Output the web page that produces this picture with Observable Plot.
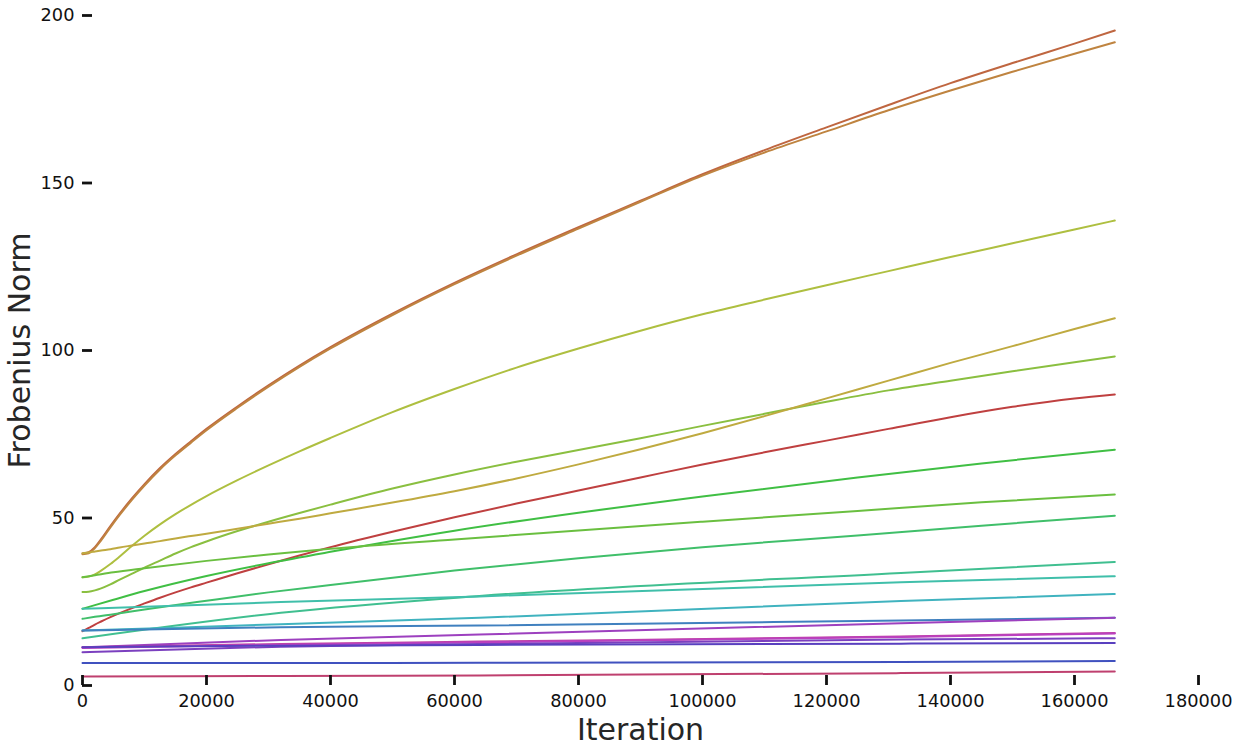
<!DOCTYPE html>
<html><head><meta charset="utf-8">
<script src="https://cdn.jsdelivr.net/npm/d3@7"></script>
<script src="https://cdn.jsdelivr.net/npm/@observablehq/plot@0.6"></script>
<style>
body{margin:0;background:#fff;}
#chart svg{display:block;}
</style>
</head><body><div id="chart"></div>
<script>
// ---- axis ticks ----
const xTicks = [0, 20000, 40000, 60000, 80000, 100000, 120000, 140000, 160000, 180000];
const yTicks = [0, 50, 100, 150, 200];

// ---- iteration grids (x values) ----
const iterFine = [0, 1000, 2000, 3000, 4500, 6000, 8000, 10000, 12500, 15000, 17500, 20000, 25000, 30000, 35000, 40000, 50000, 60000, 70000, 80000, 90000, 100000, 110000, 120000, 130000, 140000, 150000, 160000, 166500];
const iterMid = [0, 2000, 5000, 10000, 20000, 30000, 40000, 60000, 80000, 100000, 125000, 145000, 166500];
const iterCoarse = [0, 32000, 64000, 132000, 166500];

// ---- Frobenius norm series ----
const normA = [39.4, 39.8, 41.3, 43.7, 47.6, 51.3, 55.9, 60.1, 64.9, 69.1, 72.9, 76.6, 83.3, 89.6, 95.5, 101.0, 111.0, 120.2, 128.7, 136.8, 144.7, 152.6, 159.8, 166.6, 173.3, 179.8, 185.8, 191.6, 195.5];
const normB = [39.2, 39.5, 41.0, 43.3, 47.2, 50.9, 55.5, 59.7, 64.5, 68.7, 72.5, 76.2, 82.9, 89.2, 95.1, 100.6, 110.6, 119.8, 128.3, 136.4, 144.4, 152.2, 159.1, 165.4, 171.7, 177.6, 183.2, 188.6, 192.0];
const normC = [32.3, 32.5, 33.2, 34.3, 36.25, 38.5, 41.7, 44.7, 48.1, 51.15, 53.95, 56.55, 61.3, 65.7, 69.9, 73.9, 81.6, 88.5, 94.9, 100.6, 105.9, 110.8, 115.2, 119.5, 123.7, 127.9, 132.0, 136.1, 138.8];
const normD = [27.9, 28.0, 28.4, 29.0, 30.2, 31.6, 33.4, 35.2, 37.3, 39.4, 41.3, 43.0, 46.1, 48.9, 51.5, 54.0, 58.8, 63.0, 66.8, 70.3, 73.8, 77.5, 81.1, 84.7, 88.1, 91.0, 93.8, 96.5, 98.2];
const normE = [39.5, 39.7, 40.0, 40.3, 40.7, 41.2, 41.8, 42.4, 43.1, 43.9, 44.6, 45.3, 46.8, 48.3, 49.8, 51.4, 54.6, 58.0, 61.8, 66.0, 70.5, 75.3, 80.4, 85.7, 91.0, 96.3, 101.3, 106.4, 109.6];
const normF = [16.2, 17.2, 18.2, 19.1, 20.4, 21.6, 23.1, 24.5, 26.2, 27.8, 29.3, 30.7, 33.5, 36.2, 38.8, 41.3, 45.9, 50.2, 54.3, 58.2, 62.1, 66.0, 69.6, 73.1, 76.6, 80.1, 83.2, 85.7, 86.9];
const normG = [22.9, 24.0, 25.6, 28.2, 32.7, 36.5, 39.9, 46.2, 51.6, 56.4, 62.1, 66.3, 70.4];
const normH = [32.3, 32.9, 33.8, 35.0, 37.2, 39.1, 40.8, 43.6, 46.3, 48.9, 52.1, 54.7, 57.0];
const normI = [19.9, 20.5, 21.3, 22.7, 25.3, 27.8, 30.0, 34.3, 38.0, 41.3, 44.8, 47.7, 50.7];
const normJ = [14.1, 21.7, 26.7, 33.6, 36.9];
const normK = [22.9, 24.9, 26.6, 30.8, 32.6];
const normL = [16.4, 18.3, 20.2, 25.2, 27.3];
const normM = [16.4, 17.4, 17.9, 19.4, 20.2];
const normN = [11.4, 13.6, 15.2, 18.6, 20.2];
const normO = [11.4, 12.4, 13.1, 14.6, 15.7];
const normP = [11.2, 12.2, 12.9, 14.5, 15.5];
const normQ = [9.9, 11.6, 12.4, 13.7, 14.1];
const normR = [11.4, 11.9, 12.1, 12.5, 12.7];
const normS = [6.7, 6.7, 6.8, 7.0, 7.3];
const normT = [2.7, 2.85, 3.0, 3.7, 4.2];

const seriesNames = ["A","B","C","D","E","F","G","H","I","J","K","L","M","N","O","P","Q","R","S","T"];
const seriesIters = [iterFine, iterFine, iterFine, iterFine, iterFine, iterFine, iterMid, iterMid, iterMid, iterCoarse, iterCoarse, iterCoarse, iterCoarse, iterCoarse, iterCoarse, iterCoarse, iterCoarse, iterCoarse, iterCoarse, iterCoarse];
const seriesNorms = [normA, normB, normC, normD, normE, normF, normG, normH, normI, normJ, normK, normL, normM, normN, normO, normP, normQ, normR, normS, normT];
const seriesHues = [18, 32, 68, 85, 50, 0, 122, 100, 140, 158, 170, 186, 210, 284, 315, 298, 268, 252, 232, 338];
const palette = seriesHues.map(h => `hsl(${h},50%,50%)`);

// build a tidy table
const rows = [];
seriesNames.forEach((name, i) => {
  seriesIters[i].forEach((it, j) => rows.push({series: name, iter: it, norm: seriesNorms[i][j]}));
});

const W = 1239, H = 751, ML = 82, MR = 41, MT = 15, MB = 66;
const plotW = W - ML - MR, plotH = H - MT - MB;

const chart = Plot.plot({
  width: W, height: H,
  marginLeft: ML, marginRight: MR, marginTop: MT, marginBottom: MB,
  style: {fontFamily: "DejaVu Sans", background: "#fff", color: "#111"},
  x: {domain: [0, 180000]},
  y: {domain: [0, 200]},
  color: {domain: seriesNames, range: palette},
  marks: [
    Plot.line(rows, {x: "iter", y: "norm", z: "series", stroke: "series", strokeWidth: 2, curve: "monotone-x"}),
    Plot.axisX({ticks: xTicks, tickSize: 0, tickPadding: 9, fontSize: 17.8, tickFormat: d => String(d), label: null, fill: "#111"}),
    Plot.axisY({ticks: yTicks, tickSize: 0, tickPadding: 8, fontSize: 17.8, tickFormat: d => String(d), label: null, fill: "#111"}),
    Plot.tickX(xTicks, {x: d => d, insetTop: plotH - 10, stroke: "#111", strokeWidth: 2.8}),
    Plot.tickY(yTicks, {y: d => d, insetRight: plotW - 10, stroke: "#111", strokeWidth: 2.8}),
    Plot.text(["Iteration"], {text: d => d, frameAnchor: "bottom", dy: 45, textAnchor: "middle", lineAnchor: "middle", fontSize: 30, fill: "#262626"}),
    Plot.text(["Frobenius Norm"], {text: d => d, frameAnchor: "left", dx: -62, rotate: -90, textAnchor: "middle", lineAnchor: "middle", fontSize: 30, fill: "#262626"})
  ]
});
document.getElementById("chart").appendChild(chart);
</script>
</body></html>
